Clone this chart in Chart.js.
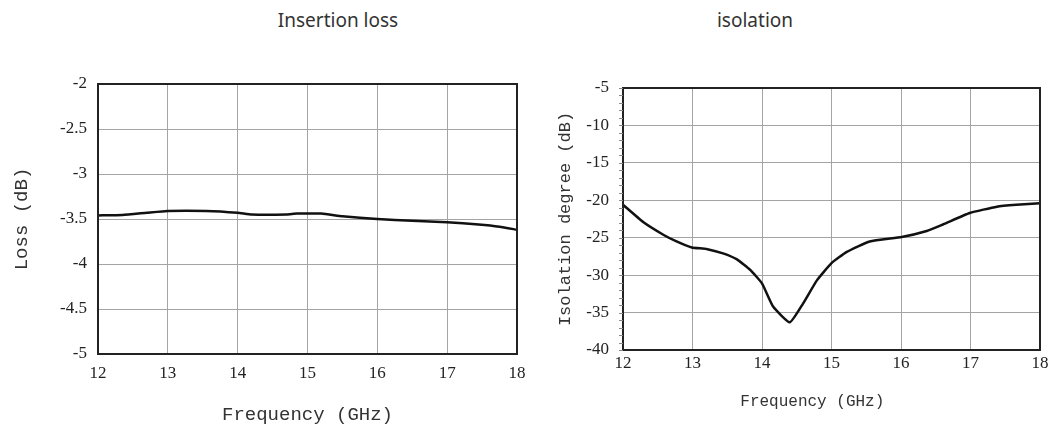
<!DOCTYPE html>
<html>
<head>
<meta charset="utf-8">
<script src="https://cdn.jsdelivr.net/npm/chart.js@4"></script>
<style>
  body { margin: 0; background: #fff; }
  #lienzo { position: relative; width: 1052px; height: 427px; overflow: hidden; }
  .titulo { position: absolute; top: 8px; width: 300px; text-align: center;
            font: 19px "Noto Sans", "Open Sans", sans-serif; color: #333; line-height: 24px; }
  canvas { position: absolute; top: 0; }
</style>
</head>
<body>
<div id="lienzo">
  <div class="titulo" style="left:188px">Insertion loss</div>
  <div class="titulo" style="left:605px">isolation</div>
  <canvas id="graficoPerdida" width="540" height="427" style="left:0"></canvas>
  <canvas id="graficoAislamiento" width="512" height="427" style="left:540px"></canvas>
</div>
<script>
// Datos
const freqPerdida = [12.0, 12.35, 12.7, 13.0, 13.55, 14.0, 14.2, 14.7, 14.85, 15.2, 15.5, 16.0, 16.5, 17.0, 17.45, 17.75, 18.0];
const perdidaDb = [-3.46, -3.455, -3.43, -3.41, -3.41, -3.43, -3.45, -3.45, -3.44, -3.44, -3.47, -3.50, -3.52, -3.535, -3.56, -3.585, -3.62];

const freqAislamiento = [12.0, 12.29, 12.58, 12.77, 12.99, 13.2, 13.44, 13.64, 13.83, 14.0, 14.16, 14.4, 14.59, 14.79, 15.0, 15.22, 15.55, 16.01, 16.37, 16.61, 16.99, 17.38, 17.66, 18.0];
const aislamientoDb = [-20.6, -22.9, -24.6, -25.5, -26.3, -26.5, -27.1, -27.9, -29.3, -31.1, -34.2, -36.3, -33.8, -30.7, -28.4, -26.9, -25.5, -24.9, -24.1, -23.2, -21.7, -20.85, -20.6, -20.4];

const ticksFrecuencia = [12, 13, 14, 15, 16, 17, 18];

// Marco negro alrededor del área de la gráfica
const pluginMarco = {
    id: 'marco',
    afterDraw(chart) {
        const { ctx, chartArea } = chart;
        ctx.save();
        ctx.strokeStyle = '#222';
        ctx.lineWidth = 2;
        ctx.strokeRect(chartArea.left, chartArea.top, chartArea.right - chartArea.left, chartArea.bottom - chartArea.top);
        ctx.restore();
    }
};

// Marcas menores en el eje Y (cada 1 dB) de la gráfica de aislamiento
const pluginMarcasMenores = {
    id: 'marcasMenores',
    afterDraw(chart) {
        const escala = chart.scales.y;
        const { ctx, chartArea } = chart;
        ctx.save();
        ctx.strokeStyle = '#888';
        ctx.lineWidth = 1;
        for (let v = escala.min; v <= escala.max; v++) {
            const y = Math.round(escala.getPixelForValue(v)) + 0.5;
            ctx.beginPath();
            ctx.moveTo(chartArea.left - 4, y);
            ctx.lineTo(chartArea.left, y);
            ctx.stroke();
        }
        ctx.restore();
    }
};

function armarPuntos(xs, ys) {
    return xs.map((x, i) => ({ x: x, y: ys[i] }));
}

function crearGrafico(idCanvas, cfg) {
    const ctx = document.getElementById(idCanvas).getContext('2d');
    return new Chart(ctx, {
        type: 'line',
        data: {
            datasets: [{
                data: armarPuntos(cfg.xs, cfg.ys),
                borderColor: '#111',
                borderWidth: 2.5,
                pointRadius: 0,
                tension: 0.15,
                fill: false
            }]
        },
        options: {
            responsive: false,
            animation: false,
            layout: { padding: { top: cfg.arriba, right: cfg.derecha, left: 0, bottom: 0 } },
            plugins: {
                legend: { display: false },
                tooltip: { enabled: false }
            },
            scales: {
                x: {
                    type: 'linear',
                    min: 12,
                    max: 18,
                    afterBuildTicks: escala => { escala.ticks = ticksFrecuencia.map(v => ({ value: v })); },
                    afterFit: escala => { escala.height = cfg.altoX; },
                    grid: { color: '#a4a4a4', lineWidth: 1, drawTicks: false },
                    border: { display: false },
                    ticks: {
                        padding: cfg.padTicksX,
                        color: '#222',
                        font: { family: '"Liberation Serif", "Times New Roman", serif', size: 17 }
                    },
                    title: {
                        display: true,
                        text: cfg.tituloX,
                        color: '#333',
                        font: { family: '"Liberation Mono", monospace', size: cfg.fuenteX },
                        padding: { top: 0, bottom: cfg.padTituloX }
                    }
                },
                y: {
                    min: cfg.yMin,
                    max: cfg.yMax,
                    ticks: {
                        stepSize: cfg.paso,
                        padding: cfg.padTicksY,
                        color: '#222',
                        font: { family: '"Liberation Serif", "Times New Roman", serif', size: 17 },
                        callback: valor => String(valor)
                    },
                    afterFit: escala => { escala.width = cfg.anchoY; },
                    grid: { color: '#a4a4a4', lineWidth: 1, drawTicks: false },
                    border: { display: false },
                    title: {
                        display: true,
                        text: cfg.tituloY,
                        color: '#333',
                        font: { family: '"Liberation Mono", monospace', size: cfg.fuenteY },
                        padding: { top: cfg.padTituloY, bottom: 0 }
                    }
                }
            }
        },
        plugins: cfg.plugins
    });
}

crearGrafico('graficoPerdida', {
    xs: freqPerdida,
    ys: perdidaDb,
    yMin: -5, yMax: -2, paso: 0.5,
    arriba: 84, derecha: 23,
    altoX: 73, anchoY: 98,
    padTicksX: 9, padTicksY: 11,
    tituloX: 'Frequency (GHz)', fuenteX: 19, padTituloX: 1,
    tituloY: 'Loss (dB)', fuenteY: 19, padTituloY: 11,
    plugins: [pluginMarco]
});

crearGrafico('graficoAislamiento', {
    xs: freqAislamiento,
    ys: aislamientoDb,
    yMin: -40, yMax: -5, paso: 5,
    arriba: 88, derecha: 12,
    altoX: 77, anchoY: 83,
    padTicksX: 3, padTicksY: 14,
    tituloX: 'Frequency (GHz)    ', fuenteX: 16, padTituloX: 16,
    tituloY: 'Isolation degree (dB)', fuenteY: 17, padTituloY: 15,
    plugins: [pluginMarco, pluginMarcasMenores]
});
</script>
</body>
</html>
